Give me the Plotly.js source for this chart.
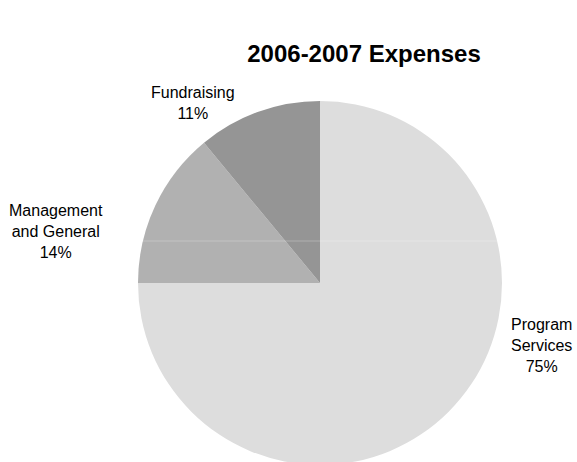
<!DOCTYPE html>
<html>
<head>
<meta charset="utf-8">
<script src="https://cdn.plot.ly/plotly-3.0.1.min.js"></script>
<style>
html,body{margin:0;padding:0;overflow:hidden;background:#fff;}
#chart{width:577px;height:470px;}
</style>
</head>
<body>
<div id="chart"></div>
<script>
var categories = ['Program Services', 'Management and General', 'Fundraising'];
var labelLines = [['Program', 'Services'], ['Management', 'and General'], ['Fundraising']];
var values = [75, 14, 11];
var colors = ['#dddddd', '#b1b1b1', '#959595'];
var chartTitle = '2006-2007 Expenses';

var W = 577, H = 470;
function px(x){ return x / W; }
function py(y){ return 1 - y / H; }

// label anchor positions (pixels)
var labelPos = [[541, 345], [56, 231], [193, 103]];

var total = values.reduce(function(a,b){return a+b;}, 0);
var annotations = categories.map(function(c, i){
  var pct = Math.round(values[i] / total * 100) + '%';
  return {
    xref: 'paper', yref: 'paper',
    x: px(labelPos[i][0]), y: py(labelPos[i][1]),
    xanchor: 'center', yanchor: 'middle',
    text: labelLines[i].concat([pct]).join('<br>'),
    showarrow: false,
    align: 'center',
    font: {family: 'Liberation Sans, Arial, sans-serif', size: 16, color: '#000'}
  };
});

var trace = {
  type: 'pie',
  labels: categories,
  values: values,
  sort: false,
  direction: 'clockwise',
  rotation: 0,
  textinfo: 'none',
  hoverinfo: 'label+percent',
  marker: {colors: colors, line: {width: 0}},
  domain: {x: [px(138), px(502)], y: [py(465), py(101)]},
  showlegend: false
};

var layout = {
  width: W, height: H,
  margin: {l: 0, r: 0, t: 0, b: 0, pad: 0},
  paper_bgcolor: '#fff',
  showlegend: false,
  title: {
    text: chartTitle,
    x: px(364), y: py(54), xref: 'paper', yref: 'paper',
    xanchor: 'center', yanchor: 'middle',
    font: {family: 'Liberation Sans, Arial, sans-serif', size: 24, color: '#000', weight: 'bold'}
  },
  annotations: annotations,
  shapes: [{
    type: 'line', xref: 'paper', yref: 'paper', layer: 'above',
    x0: px(139), x1: px(501), y0: py(241), y1: py(241),
    line: {color: 'rgba(255,255,255,0.25)', width: 1}
  }]
};

Plotly.newPlot('chart', [trace], layout, {displayModeBar: false, staticPlot: true});
</script>
</body>
</html>
